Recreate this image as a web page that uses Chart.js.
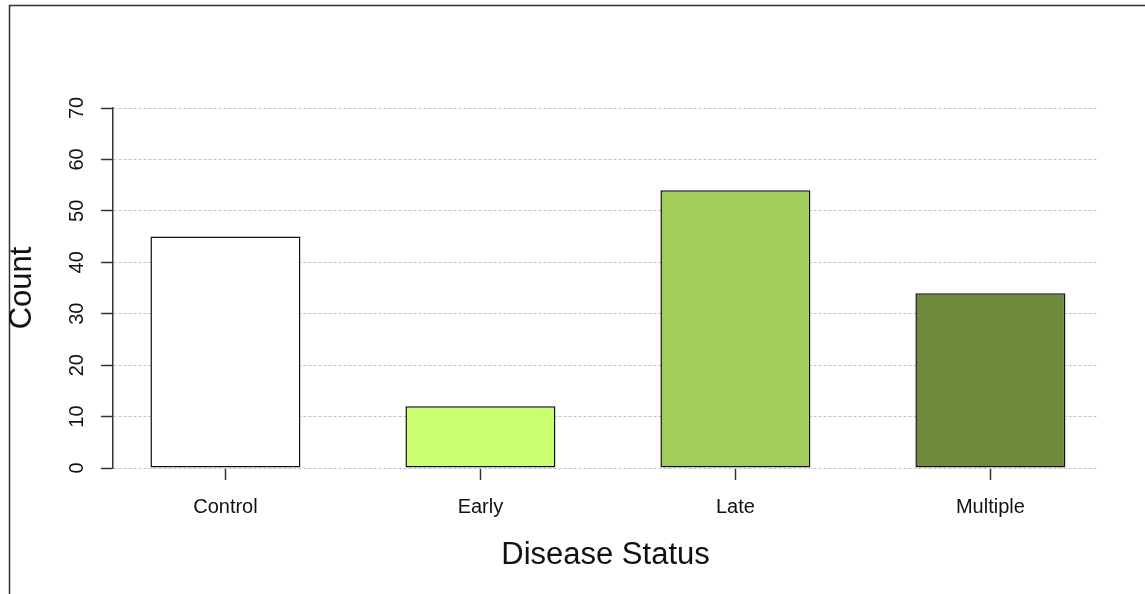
<!DOCTYPE html>
<html>
<head>
<meta charset="utf-8">
<title>Disease Status</title>
<script src="https://cdn.jsdelivr.net/npm/chart.js@4.4.0/dist/chart.umd.min.js"></script>
<style>
  html, body { margin: 0; padding: 0; background: #fff; }
  #wrap { width: 1145px; height: 594px; }
</style>
</head>
<body>
<div id="wrap"><canvas id="chart" width="1145" height="594"></canvas></div>
<script>
// values
const categories = ['Control', 'Early', 'Late', 'Multiple'];
const counts = [45, 12, 54, 34];
const barColors = ['#FFFFFF', '#CAFF70', '#A2CD5A', '#6E8B3D'];
const yTicks = [0, 10, 20, 30, 40, 50, 60, 70];

const FONT = "'Liberation Sans', Arial, sans-serif";

// outer frame (left and top edges of the device region)
const framePlugin = {
    id: 'frame',
    beforeDraw(chart) {
        const ctx = chart.ctx;
        ctx.save();
        ctx.strokeStyle = '#333';
        ctx.lineWidth = 1.5;
        ctx.beginPath();
        ctx.moveTo(9.5, chart.height);
        ctx.lineTo(9.5, 5.5);
        ctx.lineTo(chart.width, 5.5);
        ctx.stroke();
        ctx.restore();
    }
};

const ctx = document.getElementById('chart').getContext('2d');
new Chart(ctx, {
    type: 'bar',
    data: {
        datasets: [{
            data: counts.map((v, i) => ({ x: i, y: v })),
            backgroundColor: barColors,
            borderColor: '#111',
            borderWidth: 1.5,
            borderSkipped: false,
            barPercentage: 150 / 255,
            categoryPercentage: 1
        }]
    },
    options: {
        responsive: false,
        animation: false,
        layout: { padding: { top: 108, right: 47, bottom: 0, left: 0 } },
        plugins: {
            legend: { display: false },
            tooltip: { enabled: false }
        },
        scales: {
            x: {
                type: 'linear',
                min: -0.441,
                max: 3.422,
                offset: false,
                afterFit(scale) { scale.height = 126; },
                afterBuildTicks(scale) {
                    scale.ticks = categories.map((c, i) => ({ value: i }));
                },
                border: { display: false },
                grid: {
                    offset: false,
                    drawOnChartArea: false,
                    drawTicks: true,
                    tickLength: 12,
                    tickColor: '#333',
                    tickWidth: 1.5
                },
                ticks: {
                    autoSkip: false,
                    maxRotation: 0,
                    padding: 15,
                    color: '#111',
                    font: { family: FONT, size: 20 },
                    callback: (v) => categories[v]
                },
                title: {
                    display: true,
                    text: 'Disease Status',
                    color: '#111',
                    font: { family: FONT, size: 31, lineHeight: 1 },
                    padding: { top: 0, bottom: 23 }
                }
            },
            y: {
                min: 0,
                max: 70,
                afterFit(scale) { scale.width = 113; },
                afterBuildTicks(scale) {
                    scale.ticks = yTicks.map(v => ({ value: v }));
                },
                border: { display: true, color: '#333', width: 1.5, dash: [3, 2] },
                grid: {
                    color: '#c4c4c4',
                    lineWidth: 1,
                    drawTicks: true,
                    tickLength: 12,
                    tickColor: '#333',
                    tickWidth: 1.5,
                    tickBorderDash: []
                },
                ticks: {
                    minRotation: 90,
                    maxRotation: 90,
                    crossAlign: 'center',
                    padding: 12,
                    color: '#111',
                    font: { family: FONT, size: 20 }
                },
                title: {
                    display: true,
                    text: 'Count',
                    color: '#111',
                    font: { family: FONT, size: 31, lineHeight: 1 },
                    padding: { top: 7, bottom: 0 }
                }
            }
        }
    },
    plugins: [framePlugin]
});
</script>
</body>
</html>
